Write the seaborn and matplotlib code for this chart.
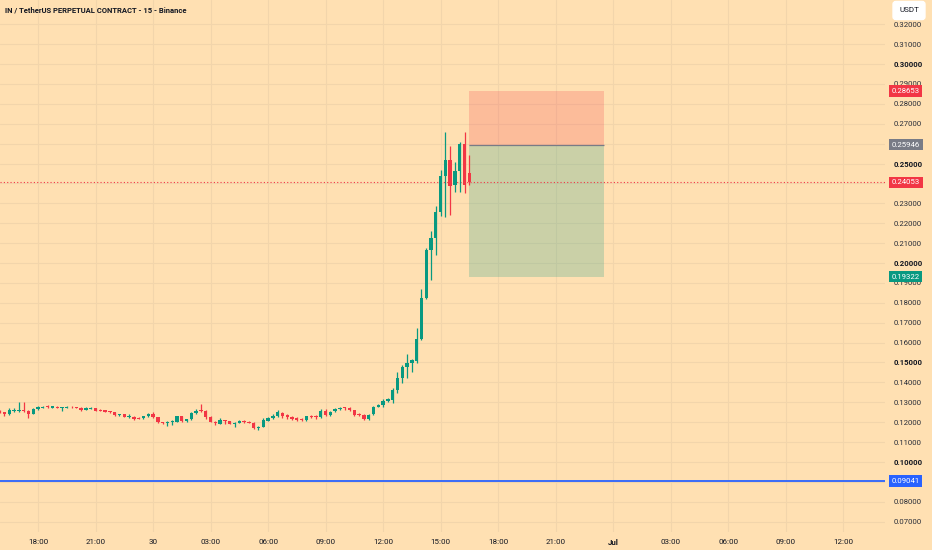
import seaborn as sns
import matplotlib.pyplot as plt
import matplotlib.dates as mdates
import matplotlib.transforms as mtransforms
import pandas as pd

BG = "#ffe0b2"
GRID = "#f2d5ab"
GREEN = "#089981"
RED = "#f23645"
GRAY = "#787b86"
BLUE = "#2962ff"
TEXT = "#131722"

# 15 minute candles, 29 Jun 16:00 -> 30 Jun 16:30
times = pd.date_range("2025-06-29 16:00", periods=99, freq="15min")

opens = [
    0.1258, 0.1250, 0.1240, 0.1258, 0.1258, 0.1263, 0.1258, 0.1241, 0.1265, 0.1273,
    0.1281, 0.1273, 0.1278, 0.1270, 0.1273, 0.1278, 0.1276, 0.1273, 0.1263, 0.1266,
    0.1270, 0.1263, 0.1260, 0.1256, 0.1250, 0.1235, 0.1240, 0.1226, 0.1226, 0.1223,
    0.1219, 0.1230, 0.1241, 0.1225, 0.1199, 0.1196, 0.1199, 0.1203, 0.1230, 0.1206,
    0.1214, 0.1245, 0.1260, 0.1256, 0.1226, 0.1203, 0.1193, 0.1209, 0.1206, 0.1191,
    0.1196, 0.1206, 0.1201, 0.1196, 0.1169, 0.1178, 0.1208, 0.1219, 0.1231, 0.1248,
    0.1236, 0.1228, 0.1219, 0.1216, 0.1211, 0.1231, 0.1231, 0.1228, 0.1256, 0.1235,
    0.1255, 0.1266, 0.1275, 0.1273, 0.1260, 0.1243, 0.1236, 0.1216, 0.1240, 0.1278,
    0.1285, 0.1305, 0.1312, 0.1362, 0.1424, 0.1476, 0.1496, 0.1509, 0.1618, 0.1823,
    0.2065, 0.2124, 0.2258, 0.2439, 0.2518, 0.2392, 0.2462, 0.2598, 0.2451,
]
highs = [
    0.1261, 0.1253, 0.1270, 0.1273, 0.1300, 0.1300, 0.1261, 0.1273, 0.1280, 0.1283,
    0.1285, 0.1283, 0.1280, 0.1278, 0.1280, 0.1280, 0.1278, 0.1275, 0.1275, 0.1275,
    0.1273, 0.1265, 0.1261, 0.1258, 0.1251, 0.1243, 0.1241, 0.1240, 0.1230, 0.1226,
    0.1233, 0.1245, 0.1250, 0.1226, 0.1203, 0.1204, 0.1209, 0.1233, 0.1233, 0.1218,
    0.1250, 0.1265, 0.1290, 0.1261, 0.1230, 0.1206, 0.1223, 0.1213, 0.1208, 0.1203,
    0.1209, 0.1209, 0.1204, 0.1199, 0.1183, 0.1223, 0.1226, 0.1240, 0.1261, 0.1253,
    0.1241, 0.1233, 0.1226, 0.1219, 0.1233, 0.1236, 0.1236, 0.1265, 0.1265, 0.1256,
    0.1273, 0.1276, 0.1278, 0.1276, 0.1261, 0.1246, 0.1240, 0.1241, 0.1281, 0.1293,
    0.1314, 0.1322, 0.1370, 0.1454, 0.1487, 0.1543, 0.1516, 0.1672, 0.1868, 0.2074,
    0.2161, 0.2286, 0.2467, 0.2657, 0.2588, 0.2509, 0.2610, 0.2657, 0.2543,
]
lows = [
    0.1246, 0.1233, 0.1238, 0.1253, 0.1253, 0.1253, 0.1223, 0.1240, 0.1263, 0.1271,
    0.1273, 0.1271, 0.1271, 0.1258, 0.1271, 0.1273, 0.1271, 0.1258, 0.1261, 0.1265,
    0.1256, 0.1255, 0.1251, 0.1248, 0.1233, 0.1233, 0.1225, 0.1219, 0.1211, 0.1214,
    0.1218, 0.1226, 0.1223, 0.1196, 0.1191, 0.1183, 0.1186, 0.1199, 0.1203, 0.1203,
    0.1211, 0.1241, 0.1250, 0.1216, 0.1199, 0.1186, 0.1189, 0.1193, 0.1189, 0.1176,
    0.1194, 0.1198, 0.1194, 0.1166, 0.1163, 0.1174, 0.1204, 0.1216, 0.1228, 0.1219,
    0.1216, 0.1213, 0.1208, 0.1204, 0.1208, 0.1223, 0.1216, 0.1223, 0.1230, 0.1233,
    0.1251, 0.1263, 0.1261, 0.1256, 0.1233, 0.1233, 0.1213, 0.1213, 0.1236, 0.1276,
    0.1278, 0.1301, 0.1298, 0.1345, 0.1395, 0.1421, 0.1454, 0.1499, 0.1613, 0.1818,
    0.1915, 0.2040, 0.2236, 0.2233, 0.2241, 0.2358, 0.2358, 0.2353, 0.2392,
]
closes = [
    0.1250, 0.1240, 0.1263, 0.1263, 0.1263, 0.1258, 0.1241, 0.1266, 0.1276, 0.1278,
    0.1275, 0.1280, 0.1273, 0.1276, 0.1278, 0.1275, 0.1273, 0.1261, 0.1273, 0.1273,
    0.1258, 0.1256, 0.1253, 0.1250, 0.1236, 0.1240, 0.1228, 0.1233, 0.1216, 0.1218,
    0.1230, 0.1241, 0.1226, 0.1199, 0.1194, 0.1201, 0.1204, 0.1230, 0.1206, 0.1214,
    0.1245, 0.1258, 0.1255, 0.1225, 0.1203, 0.1194, 0.1209, 0.1204, 0.1193, 0.1196,
    0.1206, 0.1201, 0.1196, 0.1169, 0.1178, 0.1209, 0.1221, 0.1231, 0.1250, 0.1233,
    0.1226, 0.1216, 0.1213, 0.1213, 0.1231, 0.1226, 0.1226, 0.1258, 0.1235, 0.1253,
    0.1266, 0.1273, 0.1270, 0.1260, 0.1236, 0.1236, 0.1216, 0.1238, 0.1276, 0.1288,
    0.1305, 0.1315, 0.1362, 0.1424, 0.1479, 0.1496, 0.1513, 0.1618, 0.1826, 0.2065,
    0.2127, 0.2258, 0.2439, 0.2518, 0.2388, 0.2462, 0.2598, 0.2392, 0.24053,
]

# short position tool
stop_price = 0.28653
entry_price = 0.25946
last_price = 0.24053
target_price = 0.19322
support_price = 0.09041
box_start = pd.Timestamp("2025-06-30 16:30")
box_end = pd.Timestamp("2025-06-30 23:30")

price_ticks = [0.07, 0.08, 0.09, 0.10, 0.11, 0.12, 0.13, 0.14, 0.15, 0.16, 0.17, 0.18,
               0.19, 0.20, 0.21, 0.22, 0.23, 0.24, 0.25, 0.26, 0.27, 0.28, 0.29, 0.30,
               0.31, 0.32]
bold_ticks = [0.10, 0.15, 0.20, 0.25, 0.30]
tick_times = pd.date_range("2025-06-29 18:00", "2025-07-01 12:00", freq="3h")

title = "IN / TetherUS PERPETUAL CONTRACT - 15 - Binance"

sns.set_style("whitegrid", {"axes.facecolor": BG, "figure.facecolor": BG,
                            "grid.color": GRID, "axes.edgecolor": BG})
plt.rcParams["font.family"] = ["Roboto", "DejaVu Sans"]

df = pd.DataFrame({"time": times, "open": opens, "high": highs,
                   "low": lows, "close": closes})
df["x"] = mdates.date2num(df["time"])
df["color"] = [GREEN if c >= o else RED for o, c in zip(df["open"], df["close"])]
df["bottom"] = df[["open", "close"]].min(axis=1)
df["height"] = (df["close"] - df["open"]).abs().clip(lower=0.00025)

fig = plt.figure(figsize=(9.32, 5.5), dpi=100)
ax = fig.add_axes([0, 18 / 550, 885 / 932, 532 / 550])

bar_w = 0.7 / 96
ax.vlines(df["x"], df["low"], df["high"], colors=df["color"], lw=0.9, zorder=3)
ax.bar(df["x"], df["height"], bottom=df["bottom"], width=bar_w,
       color=df["color"], lw=0, zorder=4)

# position box
bx0, bx1 = mdates.date2num(box_start), mdates.date2num(box_end)
ax.fill_between([bx0, bx1], entry_price, stop_price, color=RED, alpha=0.21, lw=0, zorder=2)
ax.fill_between([bx0, bx1], target_price, entry_price, color=GREEN, alpha=0.21, lw=0, zorder=2)
ax.hlines(entry_price, bx0, bx1, color=GRAY, lw=0.9, zorder=2.5)

ax.axhline(last_price, color=RED, lw=0.8, ls=(0, (1, 2)), zorder=2.2)
ax.axhline(support_price, color=BLUE, lw=1.3, zorder=2.2)

x_left = mdates.date2num(pd.Timestamp("2025-06-29 16:01"))
x_right = mdates.date2num(pd.Timestamp("2025-07-01 14:11"))
ax.set_xlim(x_left, x_right)
ax.set_ylim(0.0648, 0.3322)

labels = []
for t in tick_times:
    if t.hour == 0:
        labels.append("Jul" if t.month == 7 else str(t.day))
    else:
        labels.append(t.strftime("%H:%M"))
ax.set_xticks(mdates.date2num(tick_times))
ax.set_xticklabels(labels, fontsize=5.8, color=TEXT)
for lab, t in zip(ax.get_xticklabels(), tick_times):
    if t.month == 7 and t.hour == 0:
        lab.set_fontweight("bold")

ax.yaxis.tick_right()
ax.set_yticks(price_ticks)
ax.set_yticklabels([f"{p:.5f}" for p in price_ticks], fontsize=5.6, color="#2a2e39")
for lab, p in zip(ax.get_yticklabels(), price_ticks):
    if any(abs(p - b) < 1e-9 for b in bold_ticks):
        lab.set_fontweight("bold")
        lab.set_color(TEXT)
ax.tick_params(axis="both", length=0)
ax.tick_params(axis="y", pad=6)
ax.tick_params(axis="x", pad=5)
ax.grid(True, color=GRID, lw=0.8)
sns.despine(ax=ax, left=True, bottom=True, right=True, top=True)

# price badges on the scale
trans = mtransforms.blended_transform_factory(ax.transAxes, ax.transData)
badges = [(stop_price, RED), (entry_price, GRAY), (last_price, RED),
          (target_price, GREEN), (support_price, BLUE)]
for price, col in badges:
    ax.text(1.0075, price, f"{price:.5f}", transform=trans, fontsize=5.6,
            color="white", va="center", ha="left", zorder=10, clip_on=False,
            bbox=dict(boxstyle="square,pad=0.35", fc=col, ec=col, lw=0))

fig.text(5 / 932, 1 - 10 / 550, title, fontsize=5.5, fontweight="bold",
         color=TEXT, va="center", ha="left")
fig.text(909 / 932, 1 - 10.5 / 550, "USDT", fontsize=5.8, color=TEXT,
         va="center", ha="center",
         bbox=dict(boxstyle="round,pad=0.75,rounding_size=0.35", fc="white", ec="white"))

fig.savefig("out.png", dpi=100, facecolor=BG)
